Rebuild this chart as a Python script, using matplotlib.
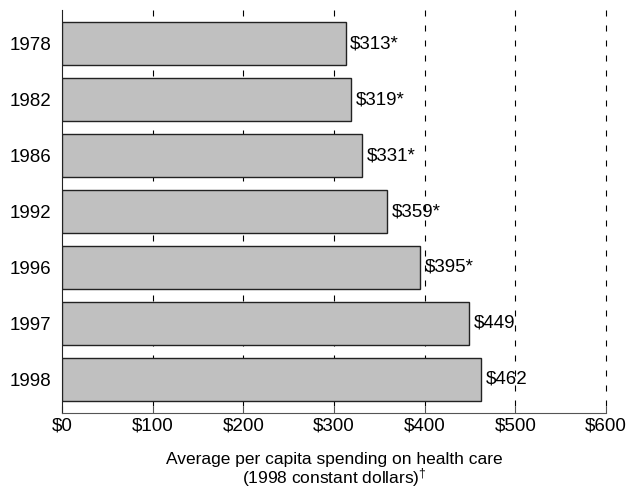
import matplotlib
matplotlib.use("Agg")
import matplotlib.pyplot as plt

years = ["1978", "1982", "1986", "1992", "1996", "1997", "1998"]
spending = [313, 319, 331, 359, 395, 449, 462]
significant = [True, True, True, True, True, False, False]
ticks = [0, 100, 200, 300, 400, 500, 600]

plt.rcParams["font.family"] = ["Liberation Sans", "DejaVu Sans"]
plt.rcParams["mathtext.fontset"] = "custom"
plt.rcParams["mathtext.rm"] = "Liberation Sans"
plt.rcParams["mathtext.default"] = "regular"

fig = plt.figure(figsize=(6.28, 4.96), dpi=100)
ax = fig.add_axes([62 / 628, 1 - 413 / 496, (606 - 62) / 628, (413 - 10) / 496])

pos = list(range(len(years)))
ax.barh(pos, spending, height=0.77, color="#c0c0c0", edgecolor="#222222",
        linewidth=1.0, zorder=3)

for p, v, s in zip(pos, spending, significant):
    lab = "\\$%d" % v + ("*" if s else "")
    ax.text(v + 5, p, lab, va="center", ha="left", fontsize=13.5, zorder=4)

ax.set_xlim(0, 600)
ax.set_ylim(len(years) - 0.4, -0.6)
ax.set_yticks(pos)
ax.set_yticklabels(years, fontsize=13.5)
ax.set_xticks(ticks)
ax.set_xticklabels(["\\$%d" % t for t in ticks], fontsize=13.5)

# dashed gridlines drawn from the top down so the dash phase starts at the top
for t in ticks[1:]:
    ax.plot([t, t], [1, 0], transform=ax.get_xaxis_transform(), color="black",
            linewidth=0.8, linestyle=(0, (5.4, 8.1)), zorder=1, clip_on=False)

for side in ["top", "right"]:
    ax.spines[side].set_visible(False)
ax.spines["left"].set_color("#222222")
ax.spines["bottom"].set_color("#555555")
ax.tick_params(axis="y", length=0, pad=8)
ax.tick_params(axis="x", direction="in", length=5, color="#555555", pad=3)

ax.set_xlabel("Average per capita spending on health care\n(1998 constant dollars)$^{\\dagger}$",
              fontsize=12.5, linespacing=0.95, labelpad=13)

fig.savefig("out.png", dpi=100)
